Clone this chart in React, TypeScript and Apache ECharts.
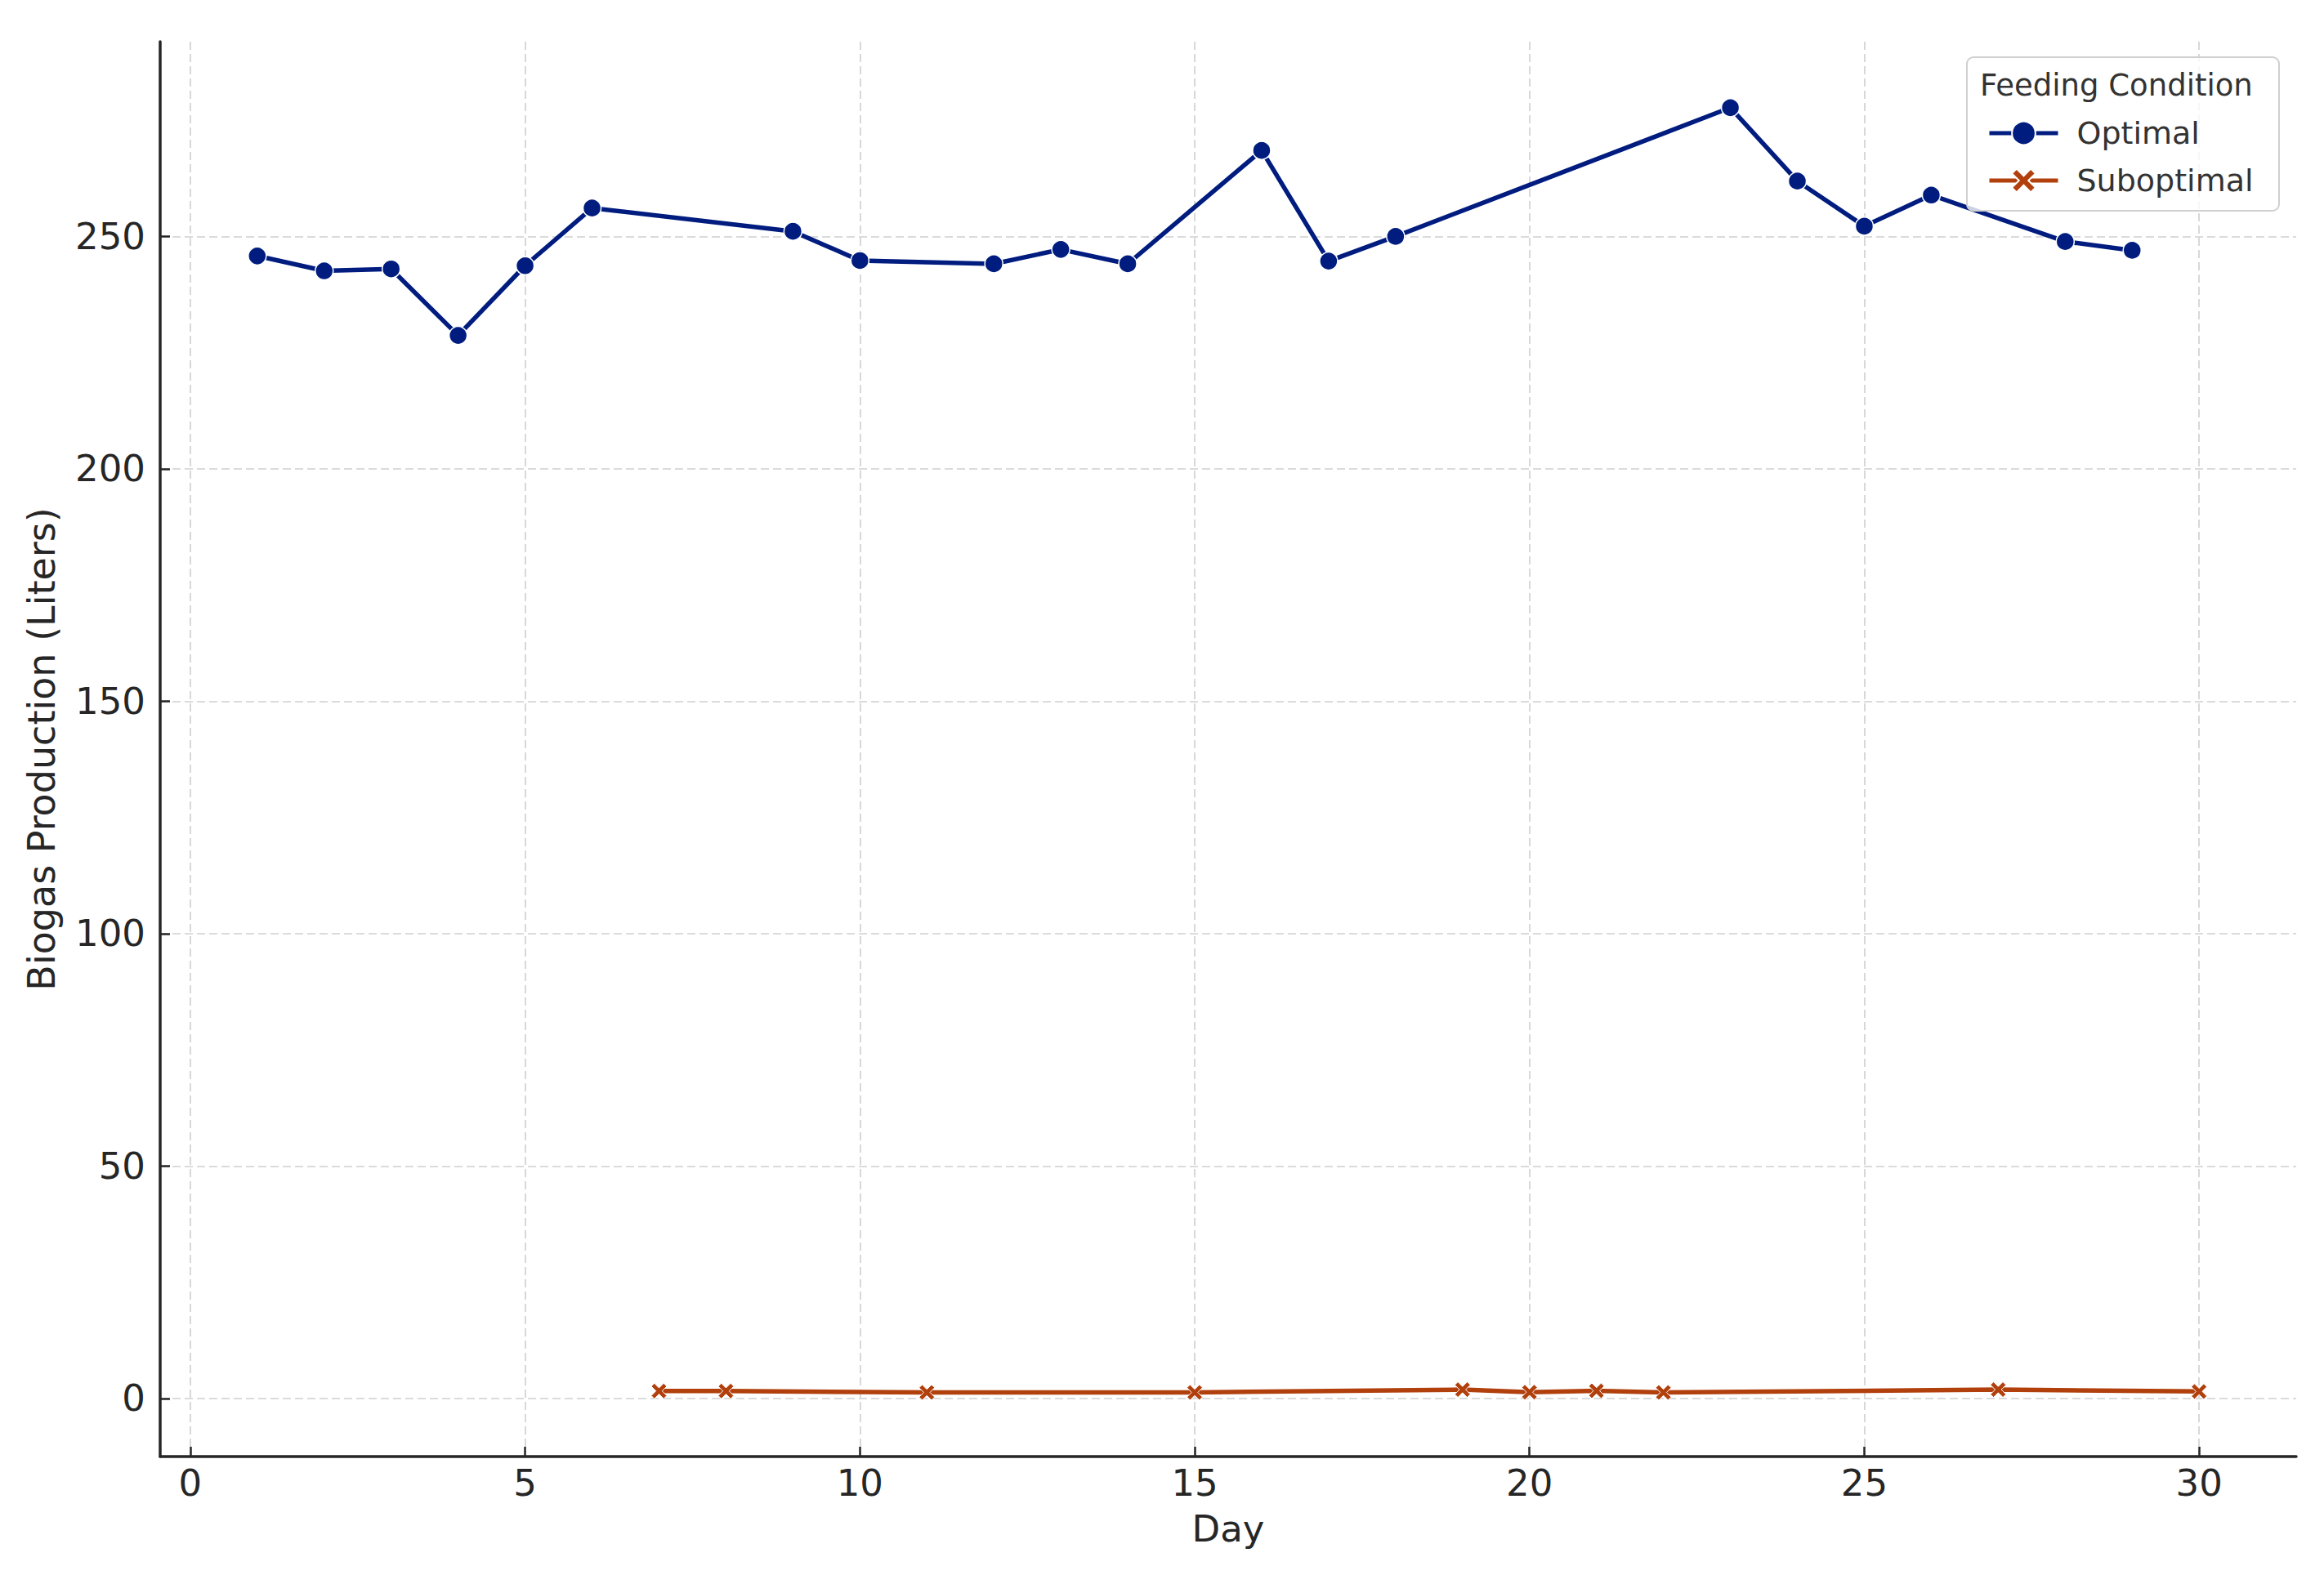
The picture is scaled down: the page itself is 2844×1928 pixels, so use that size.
import React, { useEffect, useRef } from "react";
import * as echarts from "echarts";

const optimalDays = [1, 2, 3, 4, 5, 6, 9, 10, 12, 13, 14, 16, 17, 18, 23, 24, 25, 26, 28, 29];
const optimalValues = [245.8, 242.6, 243.0, 228.7, 243.7, 256.1, 251.1, 244.8, 244.1, 247.2, 244.1, 268.5, 244.7, 250.0, 277.7, 261.9, 252.2, 258.9, 248.9, 247.0];
const suboptimalDays = [7, 8, 11, 15, 19, 20, 21, 22, 27, 30];
const suboptimalValues = [1.6, 1.6, 1.3, 1.3, 1.9, 1.35, 1.65, 1.3, 1.9, 1.5];
const xTicks = [0, 5, 10, 15, 20, 25, 30];
const yTicks = [0, 50, 100, 150, 200, 250];
const seriesNames = ["Optimal", "Suboptimal"];
const legendTitle = "Feeding Condition";
const xName = "Day";
const yName = "Biogas Production (Liters)";

const X_SYMBOL = "path://M0,2 L2,0 L5,3 L8,0 L10,2 L7,5 L10,8 L8,10 L5,7 L2,10 L0,8 L3,5 Z";

export default function App() {
  const ref = useRef<HTMLDivElement>(null);
  useEffect(() => {
    if (!ref.current) return;
    const chart = echarts.init(ref.current, null, { renderer: "svg" });
    const font = "DejaVu Sans";
    const axisColor = "#262626";
    const gridLine = { show: true, lineStyle: { color: "#cfcfcf", width: 1.6, type: [10, 5] as any } };
    chart.setOption({
      animation: false,
      backgroundColor: "#ffffff",
      textStyle: { fontFamily: font },
      grid: { left: 196, right: 34, top: 51, bottom: 145, containLabel: false },
      xAxis: {
        type: "value",
        min: -0.45,
        max: 31.45,
        name: xName,
        nameLocation: "middle",
        nameGap: 66,
        nameTextStyle: { fontSize: 45, color: axisColor, fontFamily: font },
        axisLine: { show: true, onZero: false, lineStyle: { color: axisColor, width: 3.5 } },
        axisTick: { show: true, inside: true, length: 12, customValues: xTicks, lineStyle: { color: axisColor, width: 2.5 } },
        axisLabel: { customValues: xTicks, fontSize: 45, color: axisColor, margin: 10, fontFamily: font },
        splitLine: gridLine,
      },
      yAxis: {
        type: "value",
        min: -12.5,
        max: 291.9,
        name: yName,
        nameLocation: "middle",
        nameGap: 122,
        nameTextStyle: { fontSize: 46, color: axisColor, fontFamily: font },
        axisLine: { show: true, onZero: false, lineStyle: { color: axisColor, width: 3.5 } },
        axisTick: { show: true, inside: true, length: 12, customValues: yTicks, lineStyle: { color: axisColor, width: 2.5 } },
        axisLabel: { customValues: yTicks, fontSize: 45, color: axisColor, margin: 18, fontFamily: font },
        splitLine: gridLine,
      },
      legend: {
        orient: "vertical",
        left: 2427,
        top: 137,
        itemWidth: 84,
        itemHeight: 36,
        itemGap: 16,
        z: 6,
        data: seriesNames,
        lineStyle: { width: 5 },
        textStyle: { fontSize: 38, color: "#333333", fontFamily: font, lineHeight: 42, padding: [0, 0, 0, 18] },
      },
      graphic: [
        {
          type: "rect",
          shape: { x: 2407, y: 70, width: 382, height: 188, r: 8 },
          style: { fill: "rgba(255,255,255,0.8)", stroke: "#d0d0d0", lineWidth: 2 },
          z: 4,
        },
        {
          type: "text",
          x: 2423,
          y: 104,
          style: { text: legendTitle, fontSize: 37, fill: "#333333", fontFamily: font, verticalAlign: "middle", align: "left" },
          z: 6,
        },
      ],
      series: [
        {
          name: seriesNames[0],
          type: "line",
          data: optimalDays.map((d, i) => [d, optimalValues[i]]),
          symbol: "circle",
          symbolSize: 22,
          showAllSymbol: true,
          itemStyle: { color: "#001c7f", borderColor: "#ffffff", borderWidth: 1.5 },
          lineStyle: { color: "#001c7f", width: 5.5 },
          z: 3,
        },
        {
          name: seriesNames[1],
          type: "line",
          data: suboptimalDays.map((d, i) => [d, suboptimalValues[i]]),
          symbol: X_SYMBOL,
          symbolSize: 19,
          showAllSymbol: true,
          itemStyle: { color: "#b1400d", borderColor: "#ffffff", borderWidth: 1 },
          lineStyle: { color: "#b1400d", width: 5.5 },
          z: 3,
        },
      ],
    });
    return () => chart.dispose();
  }, []);
  return (
    <div
      ref={ref}
      style={{ position: "fixed", left: 0, top: 0, width: 2844, height: 1928, background: "#fff" }}
    />
  );
}
